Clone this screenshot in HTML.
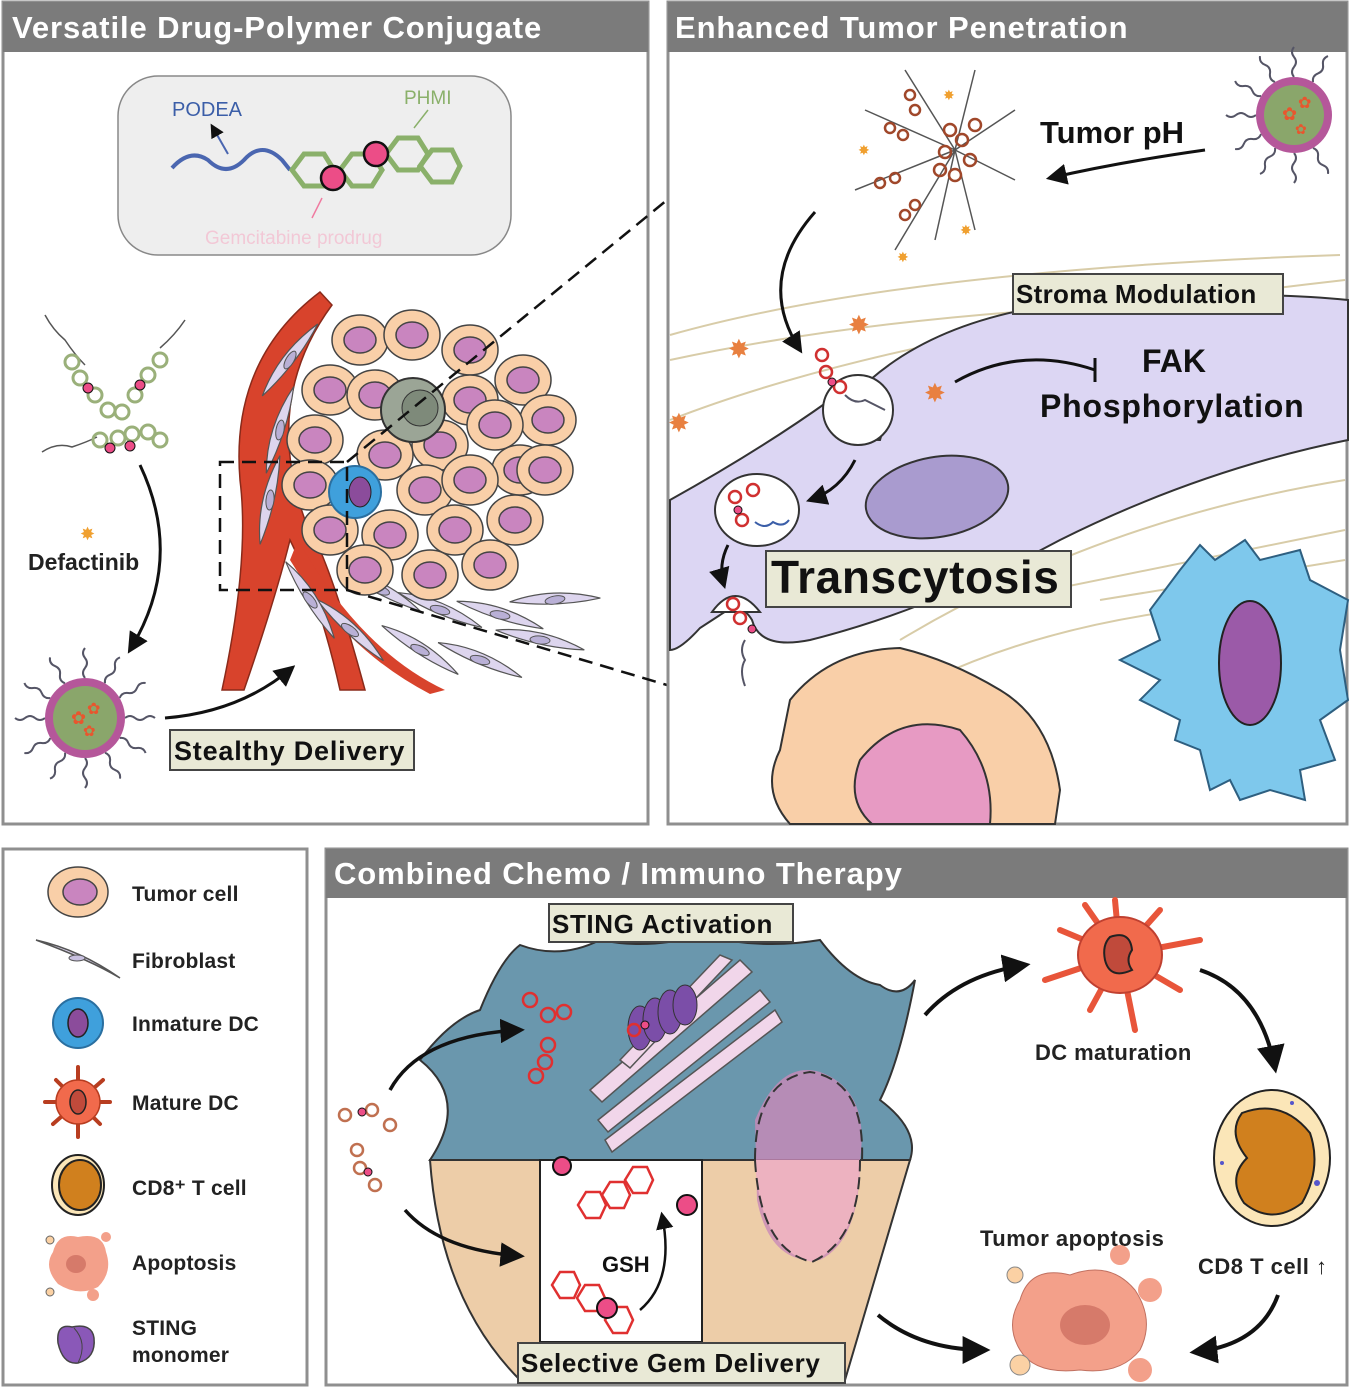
<!DOCTYPE html>
<html><head><meta charset="utf-8"><style>
html,body{margin:0;padding:0;background:#fff;}
svg{display:block;font-family:"Liberation Sans",Arial,sans-serif;}
.h{letter-spacing:0.9px}
.lb{letter-spacing:0.8px}
</style></head><body>
<svg width="1350" height="1388" viewBox="0 0 1350 1388" xmlns="http://www.w3.org/2000/svg">
<defs>
<marker id="ah" viewBox="0 0 10 10" refX="8" refY="5" markerWidth="7" markerHeight="7" orient="auto"><path d="M0,0 L10,5 L0,10 z" fill="#111"/></marker>
<g id="tc"><ellipse cx="0" cy="0" rx="28" ry="25" fill="#f9cfa8" stroke="#444" stroke-width="1.5"/><ellipse cx="0" cy="0" rx="16" ry="13" fill="#c985bf" stroke="#444" stroke-width="1.5"/></g>
<g id="fb"><path d="M-45,-6 Q0,-14 45,6 Q0,8 -45,-6z" fill="#ddd5ee" stroke="#555" stroke-width="1.2"/><ellipse cx="0" cy="0" rx="10" ry="4" fill="#b9b0d6" stroke="#555"/></g>
<g id="np"><circle r="40" fill="#b5579a"/><circle r="32" fill="#8aa66b"/><text x="-14" y="6" font-size="18" fill="#e8562e">✿</text><text x="2" y="-4" font-size="16" fill="#e8562e">✿</text><text x="-2" y="18" font-size="15" fill="#e8562e">✿</text></g>
<path id="hair" d="M0,0 q4,5 0,10 q-4,5 0,10 q4,5 0,10" fill="none" stroke="#556" stroke-width="2"/>
</defs>
<rect width="1350" height="1388" fill="#fff"/>

<!-- Panel 1 -->
<rect x="3" y="2" width="645" height="822" fill="#fff" stroke="#8f8f8f" stroke-width="3"/>
<rect x="3" y="2" width="645" height="50" fill="#7b7b7b"/>
<text class="h" x="12" y="38" font-size="31" font-weight="bold" fill="#fff">Versatile Drug-Polymer Conjugate</text>
<rect x="118" y="76" width="393" height="179" rx="40" fill="#eeeeee" stroke="#888" stroke-width="1.5"/>
<text x="172" y="116" font-size="20" fill="#3b5ea8">PODEA</text>
<text x="404" y="104" font-size="19" fill="#8ab06a">PHMI</text>
<path d="M172,168 Q190,148 208,160 Q226,178 244,160 Q262,140 282,160 L290,170" fill="none" stroke="#4a66b0" stroke-width="4"/>
<line x1="228" y1="154" x2="212" y2="126" stroke="#4a66b0" stroke-width="2" marker-end="url(#ah)"/>
<g fill="none" stroke="#8ab06a" stroke-width="5"><polygon points="292,170 304,154 324,154 334,170 324,186 304,186"/><polygon points="340,170 352,154 372,154 382,170 372,186 352,186"/><polygon points="386,154 398,138 418,138 428,154 418,170 398,170"/><polygon points="420,166 432,150 452,150 460,166 452,182 432,182"/></g>
<circle cx="333" cy="178" r="12" fill="#ec4d87" stroke="#111" stroke-width="2.5"/>
<circle cx="376" cy="154" r="12" fill="#ec4d87" stroke="#111" stroke-width="2.5"/>
<line x1="414" y1="128" x2="428" y2="110" stroke="#8ab06a" stroke-width="1.5"/>
<line x1="322" y1="198" x2="312" y2="218" stroke="#f07aa0" stroke-width="1.5"/>
<text x="205" y="244" font-size="19" fill="#f5b8cc" opacity="0.7">Gemcitabine prodrug</text>

<g fill="none" stroke="#555" stroke-width="1.5">
<path d="M45,315 q8,15 20,25 q10,15 20,25"/><path d="M185,320 q-10,15 -25,28"/>
<path d="M42,452 q15,-10 30,-5 q15,-5 25,-10"/>
</g>
<g fill="none" stroke="#9ab07a" stroke-width="3">
<circle cx="72" cy="362" r="7"/><circle cx="80" cy="378" r="7"/><circle cx="95" cy="395" r="7"/><circle cx="108" cy="410" r="7"/><circle cx="122" cy="412" r="7"/><circle cx="135" cy="395" r="7"/><circle cx="148" cy="375" r="7"/><circle cx="160" cy="360" r="7"/>
<circle cx="100" cy="440" r="7"/><circle cx="118" cy="438" r="7"/><circle cx="132" cy="434" r="7"/><circle cx="148" cy="432" r="7"/><circle cx="160" cy="440" r="7"/>
</g>
<g fill="#ec4d87" stroke="#111"><circle cx="88" cy="388" r="5"/><circle cx="140" cy="385" r="5"/><circle cx="110" cy="448" r="5"/><circle cx="130" cy="446" r="5"/></g>
<text x="80" y="540" font-size="18" fill="#f0a030">✸</text>
<text x="28" y="570" font-size="23" font-weight="bold" fill="#222">Defactinib</text>
<path d="M140,465 Q185,560 130,650" fill="none" stroke="#111" stroke-width="3" marker-end="url(#ah)"/>
<g transform="translate(85,718)">
<use href="#hair" transform="rotate(180) translate(0,40)"/><use href="#hair" transform="rotate(210) translate(0,40)"/><use href="#hair" transform="rotate(240) translate(0,40)"/><use href="#hair" transform="rotate(270) translate(0,40)"/><use href="#hair" transform="rotate(300) translate(0,40)"/><use href="#hair" transform="rotate(330) translate(0,40)"/><use href="#hair" transform="rotate(0) translate(0,40)"/><use href="#hair" transform="rotate(30) translate(0,40)"/><use href="#hair" transform="rotate(60) translate(0,40)"/><use href="#hair" transform="rotate(90) translate(0,40)"/><use href="#hair" transform="rotate(120) translate(0,40)"/><use href="#hair" transform="rotate(150) translate(0,40)"/>
<use href="#np"/></g>
<path d="M165,718 Q240,712 292,668" fill="none" stroke="#111" stroke-width="3" marker-end="url(#ah)"/>
<rect x="170" y="730" width="244" height="40" fill="#e9e9d6" stroke="#444" stroke-width="2"/>
<text class="lb" x="174" y="760" font-size="27" font-weight="bold" fill="#111">Stealthy Delivery</text>

<path d="M320,292 Q230,360 240,480 Q250,560 222,690 L244,690 Q275,600 290,540 Q320,600 340,690 L365,690 Q330,560 305,520 Q262,400 332,305 Z" fill="#d8432c" stroke="#8a2a1a" stroke-width="1.5"/>
<path d="M298,540 Q360,650 445,690 L430,694 Q345,650 290,560Z" fill="#d8432c"/>
<g>
<use href="#fb" transform="translate(290,360) rotate(-60)"/><use href="#fb" transform="translate(280,430) rotate(-80)"/><use href="#fb" transform="translate(270,500) rotate(-85)"/>
<use href="#fb" transform="translate(380,590) rotate(20)"/><use href="#fb" transform="translate(440,610) rotate(15)"/><use href="#fb" transform="translate(500,615) rotate(10)"/><use href="#fb" transform="translate(540,640) rotate(5)"/><use href="#fb" transform="translate(420,650) rotate(25)"/><use href="#fb" transform="translate(480,660) rotate(15)"/><use href="#fb" transform="translate(350,630) rotate(35)"/><use href="#fb" transform="translate(310,600) rotate(50)"/><use href="#fb" transform="translate(555,600) rotate(-10)"/>
</g>
<g>
<use href="#tc" x="360" y="340"/><use href="#tc" x="412" y="335"/><use href="#tc" x="470" y="350"/><use href="#tc" x="523" y="380"/>
<use href="#tc" x="330" y="390"/><use href="#tc" x="375" y="395"/><use href="#tc" x="470" y="400"/><use href="#tc" x="548" y="420"/>
<use href="#tc" x="315" y="440"/><use href="#tc" x="385" y="455"/><use href="#tc" x="440" y="445"/><use href="#tc" x="495" y="425"/><use href="#tc" x="520" y="470"/>
<use href="#tc" x="310" y="485"/><use href="#tc" x="425" y="490"/><use href="#tc" x="470" y="480"/><use href="#tc" x="545" y="470"/>
<use href="#tc" x="330" y="530"/><use href="#tc" x="390" y="535"/><use href="#tc" x="455" y="530"/><use href="#tc" x="515" y="520"/>
<use href="#tc" x="365" y="570"/><use href="#tc" x="430" y="575"/><use href="#tc" x="490" y="565"/>
</g>
<circle cx="413" cy="410" r="32" fill="#9ba596" stroke="#333" stroke-width="2"/><circle cx="420" cy="408" r="18" fill="#7e8a7a" stroke="#333"/>
<circle cx="355" cy="492" r="26" fill="#3fa0dc" stroke="#2a6fa0" stroke-width="2"/><ellipse cx="360" cy="492" rx="11" ry="15" fill="#8b4c9b" stroke="#222"/>
<rect x="220" y="462" width="127" height="128" fill="none" stroke="#111" stroke-width="2.5" stroke-dasharray="14,8"/>
<line x1="347" y1="462" x2="667" y2="200" stroke="#111" stroke-width="2.5" stroke-dasharray="14,8"/>
<line x1="347" y1="590" x2="667" y2="685" stroke="#111" stroke-width="2.5" stroke-dasharray="14,8"/>

<!-- Panel 2 -->
<rect x="668" y="2" width="679" height="822" fill="#fff" stroke="#8f8f8f" stroke-width="3"/>
<rect x="668" y="2" width="679" height="50" fill="#7b7b7b"/>
<text class="h" x="675" y="38" font-size="31" font-weight="bold" fill="#fff">Enhanced Tumor Penetration</text>
<g fill="none" stroke="#d8cca8" stroke-width="2">
<path d="M670,335 Q900,270 1340,255"/><path d="M670,360 Q950,300 1345,300"/><path d="M670,420 Q900,330 1345,280"/><path d="M900,640 Q1100,520 1345,480"/><path d="M1000,600 Q1200,560 1345,530"/><path d="M930,680 Q1100,600 1345,600"/><path d="M1100,600 L1345,560"/>
</g>
<path d="M670,500 Q760,450 830,400 Q850,440 880,440 Q890,410 870,380 Q950,310 1100,300 Q1250,290 1348,300 L1348,440 Q1200,470 1060,540 Q930,610 810,640 Q760,650 752,620 Q740,600 720,615 L700,628 Q680,650 670,650 Z" fill="#dcd6f3" stroke="#333" stroke-width="2"/>
<ellipse cx="937" cy="497" rx="72" ry="40" transform="rotate(-10 937 497)" fill="#a99bcf" stroke="#333" stroke-width="2"/>
<path d="M1180,570 L1200,545 L1215,560 L1245,540 L1260,560 L1300,550 L1310,580 L1348,600 L1340,650 L1348,700 L1320,720 L1335,760 L1300,770 L1305,800 L1270,790 L1240,800 L1230,780 L1210,790 L1200,750 L1175,740 L1180,720 L1140,700 L1160,680 L1120,660 L1160,640 L1150,610 Z" fill="#7ec8ec" stroke="#2e5f80" stroke-width="2"/>
<ellipse cx="1250" cy="663" rx="31" ry="62" fill="#9b5aa8" stroke="#222" stroke-width="2"/>
<path d="M790,700 Q830,650 900,648 Q950,660 1000,690 Q1050,720 1060,790 L1055,824 L790,824 Q760,790 780,750 Z" fill="#f9cfa8" stroke="#333" stroke-width="2"/>
<path d="M860,760 Q900,710 960,730 Q995,770 990,824 L872,824 Q845,800 860,760Z" fill="#e79ac3" stroke="#333" stroke-width="2"/>
<g transform="translate(1294,115)">
<use href="#hair" transform="rotate(60) translate(0,38)"/><use href="#hair" transform="rotate(90) translate(0,38)"/><use href="#hair" transform="rotate(120) translate(0,38)"/><use href="#hair" transform="rotate(150) translate(0,38)"/><use href="#hair" transform="rotate(180) translate(0,38)"/><use href="#hair" transform="rotate(0) translate(0,38)"/><use href="#hair" transform="rotate(30) translate(0,38)"/><use href="#hair" transform="rotate(-30) translate(0,38)"/><use href="#hair" transform="rotate(210) translate(0,38)"/>
<circle r="38" fill="#b5579a"/><circle r="30" fill="#8aa66b"/>
<text x="-12" y="5" font-size="18" fill="#e8562e">✿</text><text x="4" y="-7" font-size="16" fill="#e8562e">✿</text><text x="1" y="19" font-size="14" fill="#e8562e">✿</text></g>
<text x="1040" y="143" font-size="31" font-weight="bold" fill="#111">Tumor pH</text>
<path d="M1205,150 Q1120,162 1050,178" fill="none" stroke="#111" stroke-width="3" marker-end="url(#ah)"/>
<g stroke="#555" stroke-width="1.5" fill="none">
<path d="M955,150 l-50,-80"/><path d="M955,150 l-90,-40"/><path d="M955,150 l-100,40"/><path d="M955,150 l-60,100"/><path d="M955,150 l20,-80"/><path d="M955,150 l60,-40"/><path d="M955,150 l60,30"/><path d="M955,150 l20,80"/><path d="M955,150 l-20,90"/>
</g>
<g fill="none" stroke="#a0472a" stroke-width="2.5">
<circle cx="910" cy="95" r="5"/><circle cx="915" cy="110" r="5"/><circle cx="890" cy="128" r="5"/><circle cx="903" cy="135" r="5"/><circle cx="880" cy="183" r="5"/><circle cx="895" cy="178" r="5"/><circle cx="905" cy="215" r="5"/><circle cx="915" cy="205" r="5"/>
<circle cx="950" cy="130" r="6"/><circle cx="962" cy="140" r="6"/><circle cx="945" cy="152" r="6"/><circle cx="970" cy="160" r="6"/><circle cx="955" cy="175" r="6"/><circle cx="975" cy="125" r="6"/><circle cx="940" cy="170" r="6"/>
</g>
<g font-size="14" fill="#f0a030"><text x="943" y="100">✸</text><text x="858" y="155">✸</text><text x="897" y="262">✸</text><text x="960" y="235">✸</text></g>
<path d="M815,212 Q755,280 800,350" fill="none" stroke="#111" stroke-width="3" marker-end="url(#ah)"/>
<circle cx="858" cy="410" r="35" fill="#fff" stroke="#333" stroke-width="2"/>
<g fill="none" stroke="#d03030" stroke-width="2.5"><circle cx="822" cy="355" r="6"/><circle cx="826" cy="372" r="6"/><circle cx="840" cy="387" r="6"/></g><circle cx="832" cy="382" r="4" fill="#ec4d87" stroke="#111"/>
<path d="M845,395 q10,10 20,5 q10,5 20,10" fill="none" stroke="#556" stroke-width="2"/>
<g font-size="26" fill="#e88040"><text x="728" y="358">✸</text><text x="848" y="334">✸</text><text x="924" y="402">✸</text><text x="668" y="432">✸</text></g>
<path d="M955,382 Q1020,345 1095,370" fill="none" stroke="#111" stroke-width="3"/><line x1="1095" y1="358" x2="1095" y2="382" stroke="#111" stroke-width="3"/>
<rect x="1013" y="274" width="270" height="40" fill="#e9e9d6" stroke="#444" stroke-width="2"/>
<text x="1016" y="303" font-size="26" font-weight="bold" fill="#111" letter-spacing="0.3">Stroma Modulation</text>
<text x="1142" y="372" font-size="32" font-weight="bold" fill="#111">FAK</text>
<text x="1040" y="417" font-size="32" font-weight="bold" fill="#111" letter-spacing="0.8">Phosphorylation</text>
<ellipse cx="757" cy="510" rx="42" ry="36" fill="#fff" stroke="#333" stroke-width="2"/>
<g fill="none" stroke="#d03030" stroke-width="2.5"><circle cx="735" cy="497" r="6"/><circle cx="753" cy="490" r="6"/><circle cx="742" cy="520" r="6"/></g><circle cx="738" cy="510" r="4" fill="#ec4d87" stroke="#111"/>
<path d="M755,522 q10,8 18,0 q10,6 16,-2" fill="none" stroke="#3b5ea8" stroke-width="2"/>
<path d="M855,460 Q840,490 810,500" fill="none" stroke="#111" stroke-width="3" marker-end="url(#ah)"/>
<path d="M728,545 Q718,565 724,585" fill="none" stroke="#111" stroke-width="3" marker-end="url(#ah)"/>
<path d="M712,612 Q735,580 760,612 Z" fill="#fff" stroke="#333" stroke-width="2"/>
<g fill="none" stroke="#d03030" stroke-width="2.5"><circle cx="733" cy="604" r="6"/><circle cx="740" cy="618" r="6"/></g><circle cx="752" cy="629" r="4" fill="#ec4d87" stroke="#111"/>
<path d="M745,640 q-6,10 0,20 q-6,10 0,26" fill="none" stroke="#556" stroke-width="2"/>
<rect x="766" y="551" width="305" height="56" fill="#e9e9d6" stroke="#444" stroke-width="2"/>
<text x="771" y="593" font-size="46" font-weight="bold" fill="#111" letter-spacing="0.6">Transcytosis</text>

<!-- Legend -->
<rect x="3" y="849" width="304" height="536" fill="#fff" stroke="#8f8f8f" stroke-width="3"/>
<g transform="translate(78,892)"><ellipse rx="30" ry="25" fill="#f9cfa8" stroke="#444" stroke-width="1.5"/><ellipse cx="2" rx="17" ry="13" fill="#c985bf" stroke="#444" stroke-width="1.5"/></g>
<path d="M36,940 Q80,950 120,978 Q90,960 36,940Z" fill="#ddd5ee" stroke="#555" stroke-width="1.5"/><ellipse cx="77" cy="958" rx="8" ry="3" fill="#c8c0e0" stroke="#555"/>
<g transform="translate(78,1023)"><circle r="25" fill="#3fa0dc" stroke="#2a6fa0" stroke-width="2"/><ellipse rx="10" ry="14" fill="#8b4c9b" stroke="#222" stroke-width="1.5"/></g>
<g transform="translate(78,1102)" stroke="#b83d20" stroke-width="4" stroke-linecap="round"><path d="M0,0 l0,-35 M0,0 l25,-22 M0,0 l32,0 M0,0 l22,22 M0,0 l0,35 M0,0 l-25,22 M0,0 l-33,0 M0,0 l-22,-22"/><circle r="22" fill="#f16a4c" stroke="#b83d20" stroke-width="1.5"/><ellipse rx="8" ry="12" fill="#c04a3b" stroke="#222" stroke-width="1.5"/></g>
<g transform="translate(78,1185)"><ellipse rx="26" ry="30" fill="#fbe6b8" stroke="#222" stroke-width="2"/><ellipse cx="2" rx="21" ry="25" fill="#d0801e" stroke="#222" stroke-width="2"/></g>
<g transform="translate(78,1262)"><path d="M-25,-10 Q-20,-30 0,-25 Q25,-30 28,-10 Q35,10 20,25 Q0,35 -20,22 Q-35,5 -25,-10Z" fill="#f3a08a"/><ellipse cx="-2" cy="2" rx="10" ry="9" fill="#d67a6a"/><circle cx="-28" cy="-22" r="4" fill="#fbd1a4" stroke="#666"/><circle cx="28" cy="-25" r="5" fill="#f3a08a"/><circle cx="-28" cy="30" r="4" fill="#fbd1a4" stroke="#666"/><circle cx="15" cy="33" r="6" fill="#f3a08a"/></g>
<g transform="translate(78,1343)"><path d="M-6,-16 Q-22,-20 -20,0 Q-15,22 0,20 Q18,15 16,-5 Q14,-20 -6,-16Z" fill="#8a58b8" stroke="#444" stroke-width="1.5"/><path d="M-4,-15 Q10,0 0,20" fill="none" stroke="#444"/></g>
<g font-size="21" font-weight="bold" fill="#222" letter-spacing="0.2">
<text x="132" y="901">Tumor cell</text><text x="132" y="968">Fibroblast</text><text x="132" y="1031">Inmature DC</text><text x="132" y="1110">Mature DC</text><text x="132" y="1195">CD8⁺ T cell</text><text x="132" y="1270">Apoptosis</text><text x="132" y="1335">STING</text><text x="132" y="1362">monomer</text>
</g>

<!-- Panel 3 -->
<rect x="326" y="849" width="1021" height="536" fill="#fff" stroke="#8f8f8f" stroke-width="3"/>
<rect x="326" y="849" width="1021" height="49" fill="#7b7b7b"/>
<text class="h" x="334" y="884" font-size="31" font-weight="bold" fill="#fff">Combined Chemo / Immuno Therapy</text>
<path d="M430,1160 Q470,1100 420,1060 Q450,1020 480,1010 Q500,960 520,945 Q560,960 600,940 Q650,950 700,935 Q760,950 820,940 Q850,980 880,985 Q900,1000 915,980 Q900,1060 880,1100 Q920,1130 910,1160 Z" fill="#6a97ad" stroke="#333" stroke-width="2"/>
<path d="M430,1160 L910,1160 Q880,1260 845,1380 L520,1380 Q440,1300 430,1160Z" fill="#edcda8" stroke="#333" stroke-width="2"/>
<path d="M755,1120 Q780,1060 820,1072 Q870,1090 860,1160 Q860,1240 820,1260 Q770,1265 757,1200Z" fill="#c98ab8" opacity="0.8"/>
<path d="M755,1160 Q760,1250 812,1262 Q860,1240 860,1160" fill="#edb2c0" stroke="#333" stroke-width="2" stroke-dasharray="12,6"/>
<path d="M755,1160 Q755,1080 810,1072 Q865,1080 862,1160" fill="none" stroke="#333" stroke-width="2" stroke-dasharray="12,6"/>
<g fill="#f1d6ea" stroke="#555" stroke-width="1.5">
<path d="M590,1090 L740,960 L752,972 L602,1102Z"/><path d="M598,1120 L760,990 L770,1002 L608,1132Z"/><path d="M605,1140 L775,1010 L782,1022 L612,1152Z"/><path d="M620,1060 L720,955 L732,960 L630,1068Z"/>
</g>
<g fill="#7b4ea8" stroke="#333"><ellipse cx="640" cy="1028" rx="12" ry="22"/><ellipse cx="655" cy="1020" rx="12" ry="22"/><ellipse cx="670" cy="1012" rx="12" ry="22"/><ellipse cx="685" cy="1005" rx="12" ry="20"/></g>
<g fill="none" stroke="#e03030" stroke-width="2.5"><circle cx="530" cy="1000" r="7"/><circle cx="548" cy="1015" r="7"/><circle cx="564" cy="1012" r="7"/><circle cx="548" cy="1045" r="7"/><circle cx="545" cy="1062" r="7"/><circle cx="536" cy="1076" r="7"/><circle cx="634" cy="1030" r="6"/></g>
<circle cx="645" cy="1025" r="4" fill="#ec4d87" stroke="#111"/>
<path d="M390,1090 Q420,1035 520,1030" fill="none" stroke="#111" stroke-width="3.5" marker-end="url(#ah)"/>
<path d="M405,1210 Q440,1250 520,1256" fill="none" stroke="#111" stroke-width="3.5" marker-end="url(#ah)"/>
<g fill="none" stroke="#c07050" stroke-width="2.5"><circle cx="345" cy="1115" r="6"/><circle cx="372" cy="1110" r="6"/><circle cx="390" cy="1125" r="6"/><circle cx="357" cy="1150" r="6"/><circle cx="360" cy="1168" r="6"/><circle cx="375" cy="1185" r="6"/></g>
<g fill="#ec4d87" stroke="#111"><circle cx="362" cy="1112" r="4"/><circle cx="368" cy="1172" r="4"/></g>
<rect x="540" y="1160" width="162" height="182" fill="#fff" stroke="#222" stroke-width="2"/>
<g fill="none" stroke="#e03030" stroke-width="2.5"><polygon points="578,1205 586,1192 600,1192 606,1205 600,1218 586,1218"/><polygon points="602,1195 610,1182 624,1182 630,1195 624,1208 610,1208"/><polygon points="625,1180 633,1167 647,1167 653,1180 647,1193 633,1193"/><polygon points="552,1285 560,1272 574,1272 580,1285 574,1298 560,1298"/><polygon points="577,1298 585,1285 599,1285 605,1298 599,1311 585,1311"/><polygon points="605,1320 613,1307 627,1307 633,1320 627,1333 613,1333"/></g>
<circle cx="562" cy="1166" r="9" fill="#ec4d87" stroke="#111" stroke-width="2"/><circle cx="687" cy="1205" r="10" fill="#ec4d87" stroke="#111" stroke-width="2"/><circle cx="607" cy="1308" r="10" fill="#ec4d87" stroke="#111" stroke-width="2"/>
<text x="602" y="1272" font-size="22" font-weight="bold" fill="#111">GSH</text>
<path d="M640,1310 Q675,1280 662,1215" fill="none" stroke="#111" stroke-width="2.5" marker-end="url(#ah)"/>
<rect x="549" y="904" width="244" height="38" fill="#e9e9d6" stroke="#444" stroke-width="2"/>
<text x="552" y="933" font-size="26" font-weight="bold" fill="#111" letter-spacing="0.6">STING Activation</text>
<rect x="518" y="1343" width="327" height="40" fill="#e9e9d6" stroke="#444" stroke-width="2"/>
<text x="521" y="1372" font-size="26" font-weight="bold" fill="#111" letter-spacing="0.6">Selective Gem Delivery</text>
<g transform="translate(1120,955)" stroke="#e8553a" stroke-width="6" stroke-linecap="round"><path d="M0,0 l-5,-55 M0,0 l40,-45 M0,0 l80,-15 M0,0 l60,35 M0,0 l15,75 M0,0 l-30,55 M0,0 l-75,25 M0,0 l-60,-25 M0,0 l-35,-50"/><ellipse rx="42" ry="38" fill="#f16a4c" stroke="#c04030" stroke-width="2"/><path d="M-10,-18 Q10,-25 12,-5 Q5,5 12,15 Q-10,25 -15,5 Q-18,-10 -10,-18Z" fill="#c04a3b" stroke="#222" stroke-width="2"/></g>
<text x="1035" y="1060" font-size="22" font-weight="bold" fill="#222" letter-spacing="0.4">DC maturation</text>
<path d="M925,1015 Q960,975 1025,965" fill="none" stroke="#111" stroke-width="4" marker-end="url(#ah)"/>
<path d="M1200,970 Q1260,990 1275,1068" fill="none" stroke="#111" stroke-width="4" marker-end="url(#ah)"/>
<g transform="translate(1272,1158)"><ellipse rx="58" ry="68" fill="#fbe6b8" stroke="#222" stroke-width="2"/><path d="M-30,-45 Q10,-60 38,-25 Q50,10 30,45 Q0,68 -28,45 Q-45,20 -25,0 Q-45,-25 -30,-45Z" fill="#d0801e" stroke="#222" stroke-width="2"/><circle cx="-50" cy="5" r="2" fill="#55c"/><circle cx="45" cy="25" r="3" fill="#55c"/><circle cx="20" cy="-55" r="2" fill="#55c"/></g>
<text x="980" y="1246" font-size="22" font-weight="bold" fill="#222" letter-spacing="0.5">Tumor apoptosis</text>
<text x="1198" y="1274" font-size="22" font-weight="bold" fill="#222" letter-spacing="0.5">CD8 T cell ↑</text>
<g transform="translate(1080,1320)"><path d="M-60,-20 Q-50,-55 -10,-45 Q30,-60 55,-30 Q75,0 60,30 Q40,55 0,50 Q-45,55 -60,30 Q-75,5 -60,-20Z" fill="#f3a08a" stroke="#c07060"/><ellipse cx="5" cy="5" rx="25" ry="20" fill="#d67a6a"/><circle cx="-65" cy="-45" r="8" fill="#fbd1a4" stroke="#888"/><circle cx="40" cy="-65" r="10" fill="#f3a08a"/><circle cx="70" cy="-30" r="12" fill="#f3a08a"/><circle cx="-60" cy="45" r="10" fill="#fbd1a4" stroke="#888"/><circle cx="60" cy="50" r="12" fill="#f3a08a"/></g>
<path d="M878,1315 Q920,1350 985,1350" fill="none" stroke="#111" stroke-width="4" marker-end="url(#ah)"/>
<path d="M1278,1295 Q1260,1345 1195,1352" fill="none" stroke="#111" stroke-width="4" marker-end="url(#ah)"/>
</svg>
</body></html>
